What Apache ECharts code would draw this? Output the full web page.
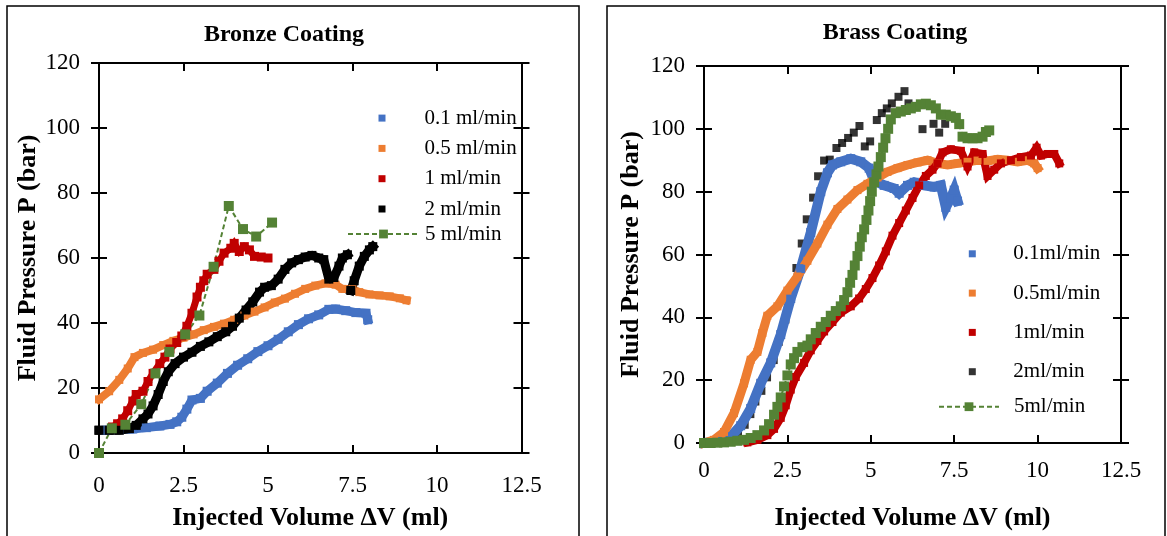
<!DOCTYPE html>
<html>
<head>
<meta charset="utf-8">
<script src="https://cdn.jsdelivr.net/npm/echarts@6/dist/echarts.min.js"></script>
<style>html,body{margin:0;padding:0;background:#fff;}#c{width:1167px;height:536px;}</style>
</head>
<body>
<div id="c"></div>
<script>
// ---------- DATA ----------
const xTicks = [0, 2.5, 5, 7.5, 10, 12.5];
const yTicks = [0, 20, 40, 60, 80, 100, 120];

const bronzeNames = ['0.1 ml/min', '0.5 ml/min', '1 ml/min', '2 ml/min', '5 ml/min'];
const brassNames = ['0.1ml/min', '0.5ml/min', '1ml/min', '2ml/min', '5ml/min'];

// Bronze coating
const bronze01 = [[0.2,7],[0.6,7.2],[1.0,7.4],[1.4,7.8],[1.8,8.3],[2.1,8.8],[2.3,9.6],[2.45,11],[2.6,13.5],[2.75,16.3],[3.0,16.8],[3.2,19],[3.5,21.5],[3.8,24.5],[4.1,27],[4.4,29],[4.7,31.2],[5.0,33],[5.3,35],[5.6,37.3],[5.9,39.5],[6.2,41.3],[6.5,42.5],[6.8,44.2],[7.0,44.3],[7.3,43.8],[7.6,43.2],[7.9,43],[7.95,41]];
const bronze05 = [[0,16.5],[0.3,19],[0.6,22.5],[0.85,26],[1.05,29.5],[1.3,30.8],[1.6,31.8],[1.9,33.2],[2.2,34.5],[2.5,35.5],[2.8,36.5],[3.1,37.8],[3.4,38.8],[3.7,39.8],[4.0,41],[4.3,42.3],[4.6,43.5],[4.9,44.8],[5.2,46.3],[5.5,47.5],[5.8,49],[6.1,50.5],[6.4,51.5],[6.7,52.2],[7.0,51.8],[7.2,50.5],[7.5,50.5],[7.7,49.5],[8.0,48.8],[8.3,48.5],[8.6,48.2],[8.9,47.6],[9.1,47]];
const bronze1 = [[0.4,8],[0.55,9],[0.7,10.5],[0.85,13],[1.0,16],[1.1,18],[1.3,19],[1.45,22],[1.6,24.5],[1.8,27.5],[1.95,29.5],[2.1,32],[2.3,34],[2.45,36],[2.6,39],[2.75,43],[2.9,48],[3.0,51],[3.1,53],[3.2,55],[3.4,56.5],[3.55,59],[3.7,61.5],[3.9,63],[4.0,64.5],[4.15,62],[4.3,63.5],[4.45,62.5],[4.6,60.5],[4.8,60.3],[5.0,60]];
const bronze2 = [[0,7],[0.3,7],[0.6,7],[0.9,7.5],[1.1,8.5],[1.3,10.5],[1.45,12],[1.6,14.5],[1.75,18],[1.9,22],[2.05,25],[2.25,27.5],[2.5,29.5],[2.75,31],[3.0,32.8],[3.25,34.2],[3.5,35.8],[3.75,37.3],[3.95,39],[4.15,41.5],[4.35,44],[4.55,46.5],[4.75,49.5],[4.9,51],[5.1,51.5],[5.3,53.5],[5.5,56.5],[5.7,58.5],[5.9,59.5],[6.1,60.3],[6.3,60.8],[6.5,60],[6.65,59.5],[6.8,53.5],[6.95,54],[7.1,57.5],[7.2,60],[7.35,61],[7.4,'-'],[7.45,50],[7.55,53],[7.7,57.5],[7.85,60.5],[8.0,62.5],[8.1,63.5]];
const bronze5 = [[0,0],[0.38,7.6],[0.78,8.7],[1.25,15],[1.67,24.5],[2.08,31.1],[2.55,36.5],[2.97,42.3],[3.39,57.3],[3.84,76],[4.26,68.9],[4.65,66.6],[5.12,70.9]];

// Brass coating
const brass01 = [[0,0],[0.4,0.5],[0.8,2],[1.1,5.5],[1.4,11],[1.7,19],[2.0,25.5],[2.3,34.5],[2.6,46],[2.9,55.5],[3.2,67],[3.5,80],[3.7,86],[3.85,88.5],[4.1,89.5],[4.4,90.5],[4.7,89.5],[4.95,87.5],[5.1,83.5],[5.4,82],[5.7,81],[5.85,79.5],[6.1,82],[6.3,83],[6.6,82],[6.9,81.5],[7.1,82],[7.25,75],[7.4,78],[7.5,80.5],[7.6,77]];
const brass05 = [[0,0],[0.3,1],[0.6,3.5],[0.9,9.5],[1.2,19],[1.4,26.5],[1.6,29],[1.75,35],[1.9,40.5],[2.2,43.5],[2.5,48.5],[2.8,53],[3.1,58],[3.4,63.5],[3.7,69.5],[4.0,74.5],[4.3,77.5],[4.6,80.5],[4.9,82.5],[5.2,84.5],[5.5,86.3],[5.8,87.5],[6.1,88.5],[6.4,89.3],[6.7,90],[7.0,89],[7.3,88.5],[7.6,89],[7.9,89.5],[8.2,90],[8.5,89.8],[8.8,90.3],[9.1,90],[9.4,89.5],[9.7,90],[9.9,89],[10.0,87.5]];
const brass1 = [[1.3,0.2],[1.6,1],[1.9,2.5],[2.1,4.5],[2.3,8],[2.45,12],[2.6,17],[2.75,21],[3.0,25.5],[3.2,29.5],[3.4,32.5],[3.6,35.5],[3.85,38.5],[4.1,41.5],[4.4,43.5],[4.65,46],[4.85,49],[5.05,52.5],[5.25,56.5],[5.45,61],[5.65,66],[5.85,70],[6.05,74],[6.25,78],[6.45,82],[6.65,85],[6.85,87],[7.0,89],[7.15,92.5],[7.4,93.5],[7.7,93],[7.9,88],[8.1,92.5],[8.35,92],[8.5,85],[8.7,87],[8.9,89],[9.2,90],[9.5,91],[9.8,91.5],[9.97,94],[10.1,91.5],[10.3,92],[10.5,92],[10.65,89]];
const brass2 = [[1.02,2.6],[1.22,5.8],[1.39,9.2],[1.54,13.2],[1.72,16.6],[1.89,20.9],[2.09,26.4],[2.24,32.2],[2.44,39.3],[2.59,47.5],[2.77,55.7],[2.93,63.5],[3.08,71.2],[3.27,78.1],[3.42,84.9],[3.6,89.9],[3.77,90.2],[3.97,93.9],[4.14,95.5],[4.32,97.1],[4.49,98.8],[4.66,100.9],[4.82,94.4],[4.98,96],[5.18,102.8],[5.33,105],[5.48,106.5],[5.63,108.1],[5.83,110.2],[6.01,112],[6.13,108.1],[6.55,99.9],[6.88,101.6],[7.05,98.8],[7.23,101.6]];
const brass5 = [[0,0],[0.2,0],[0.4,0.1],[0.6,0.2],[0.8,0.4],[1.0,0.7],[1.2,1],[1.4,1.6],[1.6,2.5],[1.8,4],[1.95,6],[2.1,9],[2.2,11.5],[2.3,14.5],[2.4,18],[2.5,21.5],[2.6,25],[2.7,27],[2.8,29],[2.95,30.5],[3.1,31],[3.2,33],[3.35,35],[3.5,37],[3.65,38.5],[3.8,40.5],[3.95,42],[4.1,43.5],[4.2,45.5],[4.3,48],[4.38,51],[4.45,53.5],[4.52,56.5],[4.6,59.5],[4.67,62.5],[4.73,65.5],[4.8,68],[4.87,71],[4.93,74],[4.98,77],[5.03,80],[5.1,83],[5.17,85.5],[5.23,88],[5.3,91],[5.37,94],[5.44,97],[5.52,100],[5.6,103],[5.75,105],[5.9,105.5],[6.05,106],[6.2,106.5],[6.35,107],[6.5,107.8],[6.65,108],[6.8,107.5],[6.95,106.5],[7.1,104.5],[7.25,104.5],[7.4,104],[7.55,103.5],[7.65,101.5],[7.75,97.5],[7.9,97],[8.05,97],[8.2,97],[8.35,97.5],[8.45,99],[8.55,99.5]];

// ---------- STYLE ----------
const SERIF = '"Liberation Serif", "Times New Roman", serif';
const COLORS = ['#4472C4', '#ED7D31', '#C00000', '#000000', '#548235'];
const AX = {color: '#000', width: 2};

const chart = echarts.init(document.getElementById('c'), null, {renderer: 'canvas'});

const xMin = xTicks[0], xMax = xTicks[xTicks.length - 1], xInt = xTicks[1] - xTicks[0];
const yMin = yTicks[0], yMax = yTicks[yTicks.length - 1], yInt = yTicks[1] - yTicks[0];

function xAxesFor(g, labelMargin, nameGap) {
  const base = {type: 'value', gridIndex: g, min: xMin, max: xMax, interval: xInt,
    splitLine: {show: false}, axisLine: {onZero: false, lineStyle: AX}};
  return [
    Object.assign({}, base, {position: 'bottom',
      axisTick: {inside: true, length: 8, lineStyle: AX},
      axisLabel: {margin: labelMargin, fontSize: 23, color: '#000', fontFamily: SERIF},
      name: 'Injected Volume \u0394V (ml)', nameLocation: 'middle', nameGap: nameGap,
      nameTextStyle: {fontSize: 26, fontWeight: 'bold', color: '#000', fontFamily: SERIF}}),
    Object.assign({}, base, {position: 'top',
      axisTick: {inside: true, length: 8, lineStyle: AX}, axisLabel: {show: false}})
  ];
}
function yAxesFor(g, labelMargin, nameGap) {
  const base = {type: 'value', gridIndex: g, min: yMin, max: yMax, interval: yInt,
    splitLine: {show: false}, axisLine: {onZero: false, lineStyle: AX}};
  return [
    Object.assign({}, base, {position: 'left',
      axisTick: {inside: false, length: 8, lineStyle: AX},
      axisLabel: {margin: labelMargin, fontSize: 23, color: '#000', fontFamily: SERIF},
      name: 'Fluid Pressure P (bar)', nameLocation: 'middle', nameGap: nameGap,
      nameTextStyle: {fontSize: 26, fontWeight: 'bold', color: '#000', fontFamily: SERIF}}),
    Object.assign({}, base, {position: 'left', axisTick: {inside: true, length: 8, lineStyle: AX}, axisLabel: {show: false}}),
    Object.assign({}, base, {position: 'right', axisTick: {inside: false, length: 8, lineStyle: AX}, axisLabel: {show: false}}),
    Object.assign({}, base, {position: 'right', axisTick: {inside: true, length: 8, lineStyle: AX}, axisLabel: {show: false}})
  ];
}

function dense(name, data, color, g, width, sym) {
  return {name: name, type: 'line', xAxisIndex: g * 2, yAxisIndex: g * 4, data: data,
    clip: false, symbol: 'rect', symbolSize: sym, showSymbol: true,
    itemStyle: {color: color}, lineStyle: {color: color, width: width, cap: 'square', join: 'miter'},
    emphasis: {disabled: true}, animation: false};
}
function markers(name, data, color, g, sym) {
  return {name: name, type: 'scatter', xAxisIndex: g * 2, yAxisIndex: g * 4, data: data,
    symbol: 'rect', symbolSize: sym, itemStyle: {color: color}, clip: false,
    emphasis: {disabled: true}, animation: false};
}
function dashed(name, data, color, g, sym) {
  return {name: name, type: 'line', xAxisIndex: g * 2, yAxisIndex: g * 4, data: data,
    clip: false, symbol: 'rect', symbolSize: sym, showSymbol: true,
    itemStyle: {color: color}, lineStyle: {color: color, width: 2, type: [5, 3]},
    emphasis: {disabled: true}, animation: false};
}

const series = [
  dense(bronzeNames[0], bronze01, COLORS[0], 0, 9, 9),
  dense(bronzeNames[1], bronze05, COLORS[1], 0, 8, 8),
  dense(bronzeNames[2], bronze1, COLORS[2], 0, 7, 9),
  dense(bronzeNames[3], bronze2, COLORS[3], 0, 9, 9),
  dashed(bronzeNames[4], bronze5, COLORS[4], 0, 10),
  dense(brassNames[0], brass01, COLORS[0], 1, 10, 9),
  dense(brassNames[1], brass05, COLORS[1], 1, 9, 8),
  dense(brassNames[2], brass1, COLORS[2], 1, 8, 8),
  markers(brassNames[3], brass2, COLORS[3], 1, 8),
  dashed(brassNames[4], brass5, COLORS[4], 1, 10)
];

const legendText = {fontSize: 21, color: '#000', fontFamily: SERIF, lineHeight: 20};
function legendDense(names, left, top, gap, pad) {
  return {orient: 'vertical', left: left, top: top, padding: 0, itemGap: gap,
    itemWidth: 7, itemHeight: 7, selectedMode: false,
    data: names.map(n => ({name: n, icon: 'rect'})),
    textStyle: Object.assign({padding: [0, 0, 0, pad]}, legendText)};
}
function legendLine(name, left, top, width, pad) {
  return {orient: 'vertical', left: left, top: top, padding: 0,
    itemWidth: width, itemHeight: 11, selectedMode: false,
    data: [name],
    textStyle: Object.assign({padding: [0, 0, 0, pad]}, legendText)};
}

const option = {
  backgroundColor: '#fff',
  animation: false,
  grid: [
    {left: 99, top: 63, right: 645.5, bottom: 81, containLabel: false},
    {left: 704, top: 66, right: 46, bottom: 91, containLabel: false}
  ],
  xAxis: [].concat(xAxesFor(0, 21, 52), xAxesFor(1, 16, 62)),
  yAxis: [].concat(yAxesFor(0, 19, 49), yAxesFor(1, 19, 60)),
  legend: [
    legendDense(bronzeNames.slice(0, 4), 378.5, 107.6, 9.3, 34),
    legendLine(bronzeNames[4], 347, 223.5, 71, 1),
    legendDense(brassNames.slice(0, 4), 968.8, 243.3, 18.3, 32.5),
    legendLine(brassNames[4], 938, 396.2, 60, 10)
  ],
  graphic: [
    {type: 'rect', shape: {x: 7, y: 6, width: 572, height: 545}, style: {fill: 'none', stroke: '#000', lineWidth: 1.5}, silent: true},
    {type: 'rect', shape: {x: 607, y: 6, width: 558, height: 545}, style: {fill: 'none', stroke: '#000', lineWidth: 1.5}, silent: true},
    {type: 'text', x: 284, y: 35, style: {text: 'Bronze Coating', align: 'center', verticalAlign: 'middle', font: 'bold 24px ' + SERIF, fill: '#000'}, silent: true},
    {type: 'text', x: 895, y: 33, style: {text: 'Brass Coating', align: 'center', verticalAlign: 'middle', font: 'bold 24px ' + SERIF, fill: '#000'}, silent: true}
  ],
  series: series
};
chart.setOption(option);
</script>
</body>
</html>
